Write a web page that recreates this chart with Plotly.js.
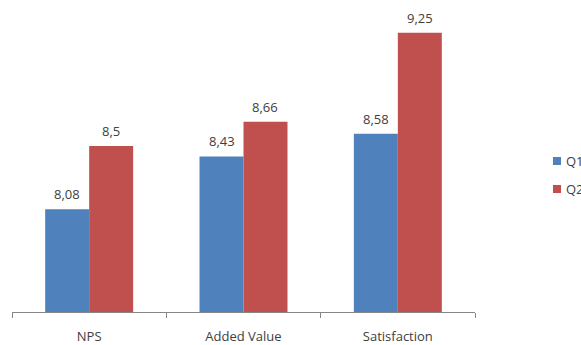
<!DOCTYPE html>
<html>
<head>
<meta charset="utf-8">
<script src="https://cdn.plot.ly/plotly-3.0.1.min.js"></script>
<style>
  html, body { margin: 0; padding: 0; background: #ffffff; }
  #chart { width: 581px; height: 345px; }
</style>
</head>
<body>
<div id="chart"></div>
<script>
// Survey scores per quarter
const categories = ['NPS', 'Added Value', 'Satisfaction'];
const q1Values = [8.08, 8.43, 8.58];
const q2Values = [8.5, 8.66, 9.25];
const seriesNames = ['Q1', 'Q2'];

const colors = ['#4F81BD', '#C0504D'];
const fontFamily = '"Open Sans", "Liberation Sans", Arial, sans-serif';
const textColor = '#404040';

const W = 581, H = 345;
const margin = { l: 12, r: 106, t: 10, b: 33, autoexpand: false };
const plotWidth = W - margin.l - margin.r;
const plotHeight = H - margin.t - margin.b;

// Decimal comma for the value labels
const fmt = v => String(v).replace('.', ',');

const barTraces = [q1Values, q2Values].map((vals, i) => ({
  type: 'bar',
  x: categories,
  y: vals,
  name: seriesNames[i],
  marker: { color: colors[i] },
  showlegend: false,
  hoverinfo: 'x+y'
}));

// Value labels above each bar
const catWidth = plotWidth / categories.length;
const bargap = 0.43;
const barWidth = catWidth * (1 - bargap) / 2;
const annotations = [];
[q1Values, q2Values].forEach((vals, i) => {
  vals.forEach((v, j) => {
    annotations.push({
      x: categories[j],
      y: v,
      xref: 'x',
      yref: 'y',
      text: fmt(v),
      showarrow: false,
      xshift: (i === 0 ? -1 : 1) * barWidth / 2,
      yanchor: 'bottom',
      yshift: 4,
      font: { family: fontFamily, size: 13, color: textColor }
    });
  });
});

// Legend on the right edge: small square key + series name
const px2x = px => (px - margin.l) / plotWidth;
const px2y = py => (H - margin.b - py) / plotHeight;
const legendKeyX = 553, legendTextX = 564, legendRowY = [161, 189], keySize = 8;
const shapes = [];
seriesNames.forEach((name, i) => {
  const cy = legendRowY[i];
  shapes.push({
    type: 'rect',
    xref: 'paper', yref: 'paper',
    x0: px2x(legendKeyX), x1: px2x(legendKeyX + keySize),
    y0: px2y(cy + keySize / 2), y1: px2y(cy - keySize / 2),
    fillcolor: colors[i],
    line: { width: 0 }
  });
  annotations.push({
    xref: 'paper', yref: 'paper',
    x: px2x(legendTextX), y: px2y(cy),
    xanchor: 'left', yanchor: 'middle',
    text: name,
    showarrow: false,
    font: { family: fontFamily, size: 13, color: textColor }
  });
});

const layout = {
  width: W,
  height: H,
  margin: margin,
  paper_bgcolor: '#ffffff',
  plot_bgcolor: '#ffffff',
  barmode: 'group',
  bargap: bargap,
  bargroupgap: 0,
  font: { family: fontFamily, size: 13, color: textColor },
  xaxis: {
    type: 'category',
    showline: true,
    linecolor: '#868686',
    linewidth: 1,
    ticks: 'outside',
    tickson: 'boundaries',
    ticklen: 5,
    tickcolor: '#868686',
    showgrid: false,
    zeroline: false,
    ticklabelstandoff: 12,
    tickfont: { family: fontFamily, size: 13, color: textColor }
  },
  yaxis: {
    range: [7.4, 9.4],
    visible: false,
    showgrid: false,
    zeroline: false
  },
  showlegend: false,
  shapes: shapes,
  annotations: annotations
};

Plotly.newPlot('chart', barTraces, layout, { displayModeBar: false, staticPlot: true });
</script>
</body>
</html>
